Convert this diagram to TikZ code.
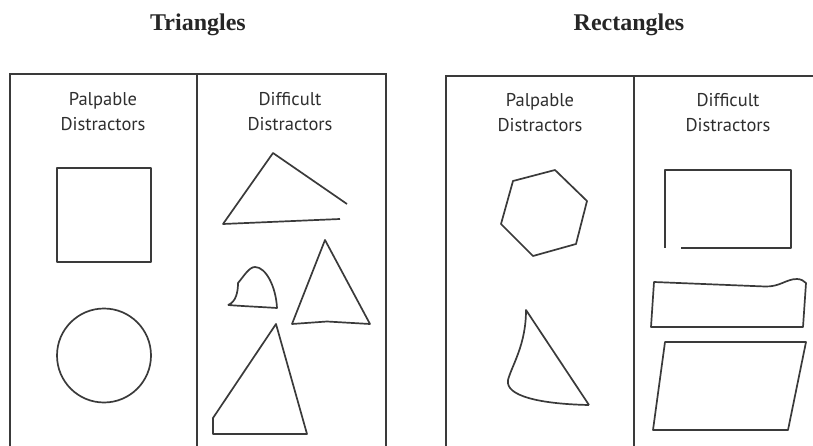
\documentclass[tikz,border=0pt]{standalone}
\usepackage{fontspec}
\setmainfont{Liberation Serif}
\setsansfont{PT Sans}
\definecolor{Ink}{HTML}{3A3A3A}
\definecolor{Label}{HTML}{2E2E2E}
\tikzset{frame/.style={draw=Ink,line width=1.7pt},outline/.style={draw=Ink,line width=1.7pt,line join=round},heading/.style={font=\fontsize{24}{28}\selectfont\bfseries,text=black!85,inner sep=0},column/.style={font=\sffamily\fontsize{18.5}{25}\selectfont,text=Label,align=center,inner sep=0}}

\begin{document}
\begin{tikzpicture}[x=1pt,y=-1pt]
\useasboundingbox (0,0) rectangle (813,446);
\node[heading] (tri) at (198,25) {Triangles};
\node[heading] (rect) at (629,25) {Rectangles};
\draw[frame] (10,446) -- (10,74) -- (386,74) -- (386,446);
\draw[frame] (197,74) -- (197,446);
\draw[frame] (446,446) -- (446,76) -- (813,76);
\draw[frame] (634,76) -- (634,446);
\node[column] (tpal) at (103,112) {Palpable\\Distractors};
\node[column] (tdif) at (290,112) {Difficult\\Distractors};
\node[column] (rpal) at (540,113) {Palpable\\Distractors};
\node[column] (rdif) at (728,113) {Difficult\\Distractors};
\draw[outline] (57,168) rectangle (151,262);
\draw[outline] (104,355.5) circle (47);
\draw[outline] (347,204) -- (273,153) -- (223,224) -- (340,219);
\draw[outline] (228,305) .. controls (236,302) and (238,292) .. (238,283) .. controls (244,276) and (249,267) .. (255,267) .. controls (266,267) and (276,287) .. (277,308) .. controls (262,307) and (240,306) .. (228,305);
\draw[outline] (325,240) -- (370,324) -- (327,321.5) -- (292,324) -- cycle;
\draw[outline] (213,418) -- (276,324) -- (307,434) -- (213,434) -- cycle;
\draw[outline] (513,181) -- (555,170) -- (587,201) -- (576,244) -- (533,256) -- (501,224) -- cycle;
\draw[outline] (589,405) -- (526,310) .. controls (526,345) and (512,365) .. (508,380) .. controls (505,396) and (540,404) .. (589,405);
\draw[outline] (665,248) -- (665,170) -- (791,170) -- (791,248) -- (681,248);
\draw[outline] (806,283) .. controls (804,281) and (801,279) .. (797,279) .. controls (786,279) and (780,287) .. (765,286.5) -- (654,282) -- (651,327) -- (803,327) -- cycle;
\draw[outline] (665,342) -- (806,342) -- (788,430) -- (653,430) -- cycle;
\end{tikzpicture}
\end{document}
